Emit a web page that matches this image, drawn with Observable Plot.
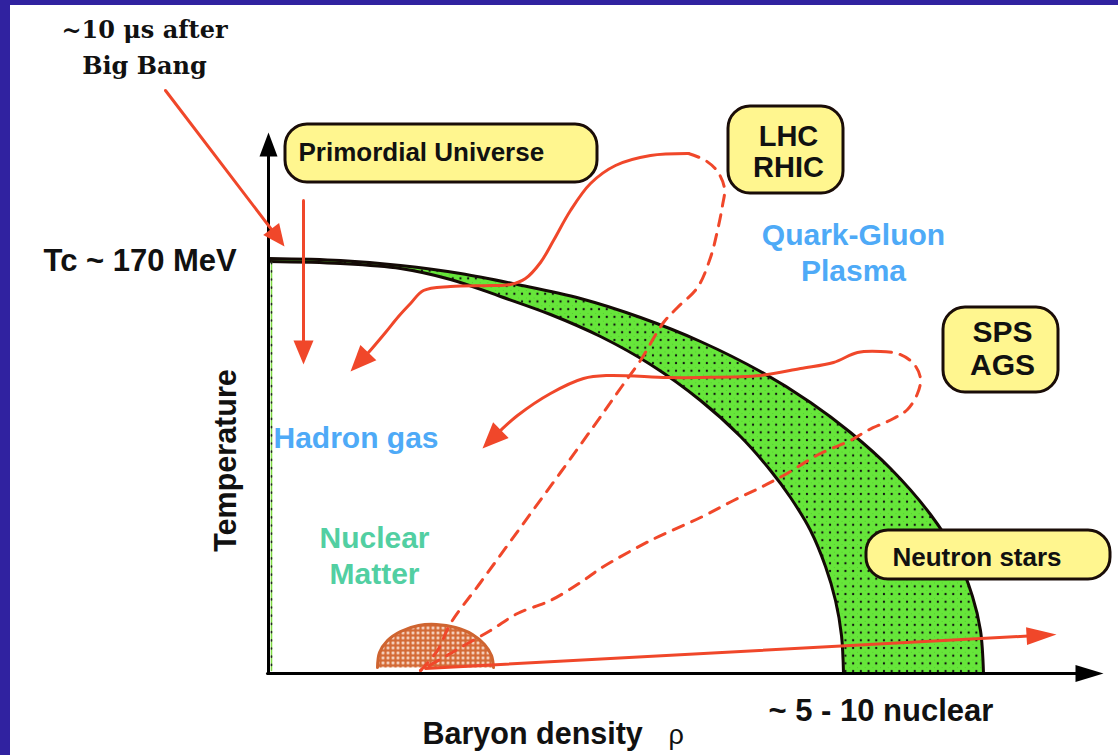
<!DOCTYPE html>
<html><head><meta charset="utf-8">
<script src="https://cdn.jsdelivr.net/npm/d3@7"></script>
<script src="https://cdn.jsdelivr.net/npm/@observablehq/plot@0.6"></script>
<style>
html,body{margin:0;padding:0;background:#3022a0;width:1118px;height:755px;overflow:hidden;}
#frame{position:absolute;left:10px;top:5px;width:1108px;height:750px;background:#fff;}
</style></head><body><div id="frame"></div>
<script>
// ---- Data (diagram units: x = baryon density axis, y = temperature axis, picture-space) ----
const bandUpper = [[268,258],[340,260],[400,265],[460,273],[517,284],[580,298],[640,317],[700,341],[760,371],[810,402],[850,432],[890,468],[930,514],[955,553],[972,596],[980,630],[983,673]];
const bandLower = [[268,261],[340,263],[400,268],[450,279],[500,296],[550,314],[600,336],[650,364],[700,400],[740,436],[770,470],[790,497],[810,530],[825,566],[835,600],[841,635],[843,673]];
const nuclearDome = [[377,667],[379,652],[387,640],[400,631],[418,625],[436,624],[455,627],[472,634],[484,644],[491,655],[493,667]];
const yAxisPath = [[268,673],[268,132]];
const xAxisPath = [[267,673],[1103,673]];
const tcAxisGuide = [[271,262],[271,670]];
const bigBangPath = [[165,90],[284,246]];
const primordialPath = [[303,200],[303,364]];
const lhcSolid = [[688,153],[650,155],[615,165],[590,183],[570,210],[553,240],[540,262],[525,278],[510,284],[490,285],[450,286],[423,290],[410,303],[398,316],[385,332],[368,352],[350,371]];
const lhcDashed = [[688,153],[705,160],[717,171],[724,188],[722,205],[717,230],[710,257],[697,287],[677,307],[663,322],[640,360],[622,385],[603,412],[560,472],[520,527],[480,582],[450,623],[437,650],[420,670]];
const spsSolid = [[880,351],[857,352],[833,362],[800,368],[760,375],[700,377],[667,377],[607,375],[583,378],[550,393],[517,415],[500,430],[482,448]];
const spsDashed = [[880,351],[897,353],[913,363],[920,378],[917,393],[907,409],[893,418],[867,430],[850,440],[820,453],[783,475],[760,487],[733,500],[700,517],[650,540],[600,568],[583,580],[550,600],[517,613],[490,630],[460,647],[450,653],[420,670]];
const neutronPath = [[425,668],[1056,634]];

const boxes = [
  {name:"Primordial Universe", x1:285, x2:597, y1:124, y2:182},
  {name:"LHC/RHIC", x1:728, x2:843, y1:106, y2:193},
  {name:"SPS/AGS", x1:943, x2:1058, y1:307, y2:392},
  {name:"Neutron stars", x1:866, x2:1110, y1:530, y2:579}
];
const boxTextStart = [
  {text:"Primordial Universe", x:298, y:160},
  {text:"Neutron stars", x:892, y:565}
];
const lhcText = [{text:"LHC\nRHIC", x:788, y:176}];
const spsText = [{text:"SPS\nAGS", x:1002, y:374}];
const qgpLabels = [{text:"Quark-Gluon\nPlasma", x:853, y:280}];
const hadronLabels = [{text:"Hadron gas", x:273, y:447}];
const nuclearLabels = [{text:"Nuclear\nMatter", x:374, y:583}];
const bigBangLabels = [{text:"~10 \u03bcs after\nBig Bang", x:144, y:73}];
const tcLabel = [{text:"Tc ~ 170 MeV", x:43, y:270}];
const xLabels = [{text:"Baryon density", x:422, y:743}];
const rhoLabel = [{text:"\u03c1", x:668, y:743}];
const densityLabel = [{text:"~ 5 - 10 nuclear", x:768, y:720}];
const yLabel = [{text:"Temperature", x:235, y:460}];

// ---- helpers ----
const red = "#f0472a";
const pts = a => a.map(p => ({x:p[0], y:p[1]}));
function head(path, len, wid) {
  const [tx, ty] = path[path.length-1], [fx, fy] = path[path.length-2];
  const L = Math.hypot(tx-fx, ty-fy), ux = (tx-fx)/L, uy = (ty-fy)/L;
  const bx = tx-ux*len, by = ty-uy*len, px = -uy*wid/2, py = ux*wid/2;
  return [[tx,ty],[bx+px,by+py],[bx-px,by-py]];
}
function trim(path, d) {
  const p = path.map(q => q.slice());
  const [tx, ty] = p[p.length-1], [fx, fy] = p[p.length-2];
  const L = Math.hypot(tx-fx, ty-fy);
  p[p.length-1] = [tx-(tx-fx)/L*d, ty-(ty-fy)/L*d];
  return p;
}
const group = list => list.flatMap((h,i) => h.map(p => ({x:p[0], y:p[1], id:i})));
const redHeads = group([head(bigBangPath,22,20), head(primordialPath,24,20), head(lhcSolid,26,22), head(spsSolid,26,22), head(neutronPath,30,18)]);
const axisHeads = group([head(yAxisPath,24,18), head(xAxisPath,28,17)]);
const band = bandUpper.map((u,i) => ({ux:u[0], uy:u[1], lx:bandLower[i][0], ly:bandLower[i][1]}));

const sans = "Liberation Sans, Arial, Helvetica, sans-serif";
const svg = Plot.plot({
  width: 1108, height: 750, margin: 0,
  x: {domain: [10, 1118], axis: null},
  y: {domain: [755, 5], axis: null},
  style: {fontFamily: sans, background: "white", overflow: "visible"},
  marks: [
    Plot.area(band, {x1:"ux", y1:"uy", x2:"lx", y2:"ly", curve:"catmull-rom", fill:"url(#dots)"}),
    Plot.line(pts(bandUpper), {x:"x", y:"y", curve:"catmull-rom", stroke:"#140a06", strokeWidth:3}),
    Plot.line(pts(bandLower), {x:"x", y:"y", curve:"catmull-rom", stroke:"#140a06", strokeWidth:3}),
    Plot.line(pts(tcAxisGuide), {x:"x", y:"y", stroke:"#80dc45", strokeWidth:1.5}),
    Plot.line(pts(tcAxisGuide), {x:"x", y:"y", stroke:"#222", strokeWidth:1.5, strokeDasharray:"1.2,7"}),
    Plot.line(pts(nuclearDome), {x:"x", y:"y", curve:"catmull-rom", fill:"url(#hatch)", stroke:"#cf6430", strokeWidth:3}),
    Plot.line(pts(trim(yAxisPath,18)), {x:"x", y:"y", stroke:"#000", strokeWidth:3}),
    Plot.line(pts(trim(xAxisPath,22)), {x:"x", y:"y", stroke:"#000", strokeWidth:3}),
    Plot.line(axisHeads, {x:"x", y:"y", z:"id", fill:"#000", stroke:"none"}),
    Plot.line(pts(lhcDashed), {x:"x", y:"y", curve:"catmull-rom", stroke:red, strokeWidth:3, strokeDasharray:"11,9"}),
    Plot.line(pts(spsDashed), {x:"x", y:"y", curve:"catmull-rom", stroke:red, strokeWidth:3, strokeDasharray:"11,9"}),
    Plot.line(pts(trim(lhcSolid,14)), {x:"x", y:"y", curve:"catmull-rom", stroke:red, strokeWidth:3}),
    Plot.line(pts(trim(spsSolid,14)), {x:"x", y:"y", curve:"catmull-rom", stroke:red, strokeWidth:3}),
    Plot.line(pts(trim(bigBangPath,14)), {x:"x", y:"y", stroke:red, strokeWidth:3}),
    Plot.line(pts(trim(primordialPath,14)), {x:"x", y:"y", stroke:red, strokeWidth:3}),
    Plot.line(pts(trim(neutronPath,16)), {x:"x", y:"y", stroke:red, strokeWidth:3}),
    Plot.line(redHeads, {x:"x", y:"y", z:"id", fill:red, stroke:"none"}),
    Plot.rect(boxes, {x1:"x1", x2:"x2", y1:"y1", y2:"y2", rx:22, fill:"#fff68f", stroke:"#1a0d08", strokeWidth:3}),
    Plot.text(boxTextStart, {x:"x", y:"y", text:"text", textAnchor:"start", lineAnchor:"bottom", fontSize:26, fontWeight:"bold", fill:"#111"}),
    Plot.text(lhcText, {x:"x", y:"y", text:"text", textAnchor:"middle", lineAnchor:"bottom", lineHeight:1.05, fontSize:29, fontWeight:"bold", fill:"#111"}),
    Plot.text(spsText, {x:"x", y:"y", text:"text", textAnchor:"middle", lineAnchor:"bottom", lineHeight:1.07, fontSize:30, fontWeight:"bold", fill:"#111"}),
    Plot.text(qgpLabels, {x:"x", y:"y", text:"text", textAnchor:"middle", lineAnchor:"bottom", lineHeight:1.17, fontSize:30, fontWeight:"bold", fill:"#4eaaf7"}),
    Plot.text(hadronLabels, {x:"x", y:"y", text:"text", textAnchor:"start", lineAnchor:"bottom", fontSize:30, fontWeight:"bold", fill:"#4eaaf7"}),
    Plot.text(nuclearLabels, {x:"x", y:"y", text:"text", textAnchor:"middle", lineAnchor:"bottom", lineHeight:1.17, fontSize:30, fontWeight:"bold", fill:"#52cfa2"}),
    Plot.text(bigBangLabels, {x:"x", y:"y", text:"text", textAnchor:"middle", lineAnchor:"bottom", lineHeight:1.5, fontSize:24, fontWeight:"bold", fontFamily:"DejaVu Serif, serif", fill:"#111"}),
    Plot.text(tcLabel, {x:"x", y:"y", text:"text", textAnchor:"start", lineAnchor:"bottom", fontSize:31, fontWeight:"bold", fill:"#111"}),
    Plot.text(xLabels, {x:"x", y:"y", text:"text", textAnchor:"start", lineAnchor:"bottom", fontSize:30.5, fontWeight:"bold", fill:"#111"}),
    Plot.text(rhoLabel, {x:"x", y:"y", text:"text", textAnchor:"start", lineAnchor:"bottom", fontSize:27, fill:"#111"}),
    Plot.text(densityLabel, {x:"x", y:"y", text:"text", textAnchor:"start", lineAnchor:"bottom", fontSize:31, fontWeight:"bold", fill:"#111"}),
    Plot.text(yLabel, {x:"x", y:"y", text:"text", textAnchor:"middle", lineAnchor:"bottom", rotate:-90, fontSize:30.5, fontWeight:"bold", fill:"#111"})
  ]
});
const defs = d3.select(svg).insert("defs", ":first-child");
const dp = defs.append("pattern").attr("id","dots").attr("patternUnits","userSpaceOnUse").attr("width",7.7).attr("height",7.7);
dp.append("rect").attr("width",7.7).attr("height",7.7).attr("fill","#66e63a");
dp.append("circle").attr("cx",3.85).attr("cy",3.85).attr("r",1.15).attr("fill","#111");
dp.append("circle").attr("cx",0).attr("cy",0).attr("r",0.7).attr("fill","#4a8a30");
const hp = defs.append("pattern").attr("id","hatch").attr("patternUnits","userSpaceOnUse").attr("width",5).attr("height",5);
hp.append("rect").attr("width",5).attr("height",5).attr("fill","#d46a36");
hp.append("circle").attr("cx",2.5).attr("cy",2.5).attr("r",1.4).attr("fill","#fbe3d6");
document.getElementById("frame").appendChild(svg);
</script></body></html>
